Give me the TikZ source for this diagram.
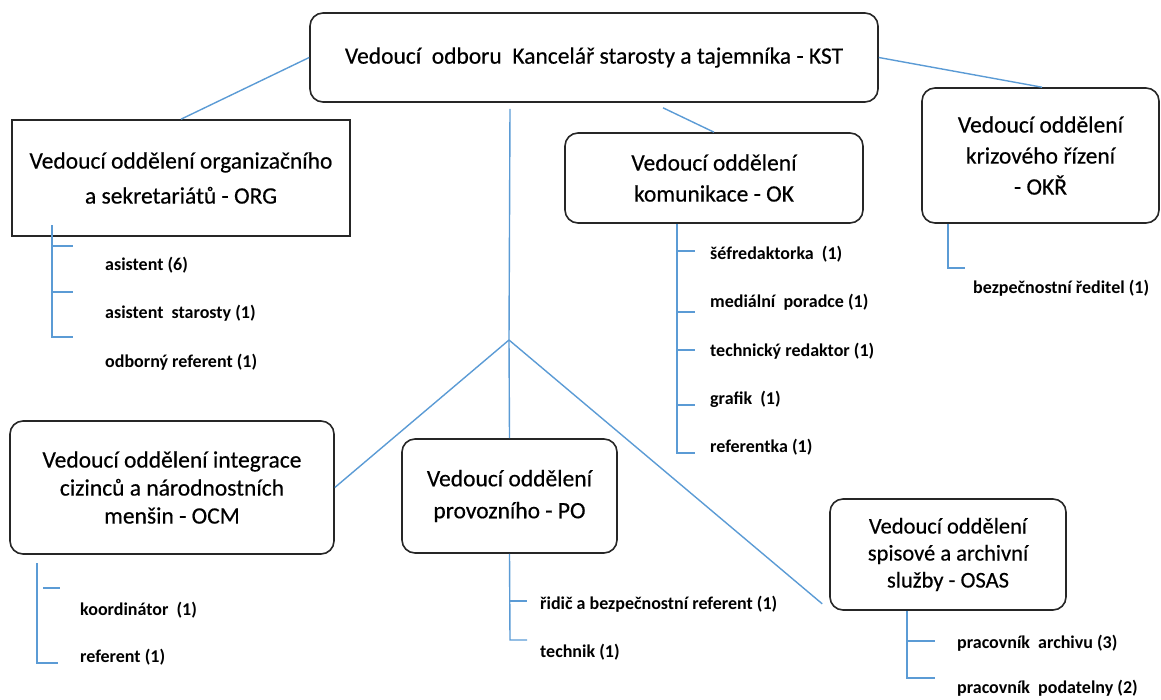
\documentclass[tikz,border=0pt]{standalone}
\usepackage{fontspec}
\setmainfont{Carlito}
\newfontfamily\titlefont[FakeBold=0.4]{Carlito}
\usetikzlibrary{calc}
\definecolor{conn}{RGB}{91,155,213}
\definecolor{boxline}{RGB}{38,38,38}
\begin{document}
\begin{tikzpicture}[x=1pt,y=-1pt,
  box/.style={draw=boxline,line width=1.6pt,rounded corners=13pt,align=center,inner sep=0pt,
    font=\titlefont\fontsize{23.5}{31}\selectfont},
  sqbox/.style={box,rounded corners=0pt},
  item/.style={anchor=west,inner sep=0pt,font=\fontsize{18}{20}\selectfont\bfseries},
  link/.style={draw=conn,line width=1.4pt}]
\useasboundingbox (0,0) rectangle (1161,699);
% boxes
\node[box,minimum width=568pt,minimum height=89pt] (kst) at (594,57.5) {\raisebox{-6pt}{Vedoucí\ \ odboru\ \ Kancelář starosty a tajemníka - KST}};
\node[sqbox,minimum width=338pt,minimum height=116pt,font=\titlefont\fontsize{23.5}{35}\selectfont] (org) at (181,178) {Vedoucí oddělení organizačního\\a sekretariátů - ORG};
\node[box,minimum width=298pt,minimum height=90pt] (ok) at (714,178) {Vedoucí oddělení\\komunikace - OK};
\node[box,minimum width=237pt,minimum height=135pt] (okr) at (1040.5,155.5) {Vedoucí oddělení\\krizového řízení\\- OKŘ};
\node[box,minimum width=324pt,minimum height=133pt,font=\titlefont\fontsize{23.5}{28}\selectfont] (ocm) at (172,487.5) {Vedoucí oddělení integrace\\cizinců a národnostních\\menšin - OCM};
\node[box,minimum width=215pt,minimum height=114pt,font=\titlefont\fontsize{23.5}{32}\selectfont] (po) at (509.5,496) {Vedoucí oddělení\\provozního - PO};
\node[box,minimum width=236pt,minimum height=111pt,font=\titlefont\fontsize{22.5}{27}\selectfont] (osas) at (948,554.5) {Vedoucí oddělení\\spisové a archivní\\služby - OSAS};
% connectors
\coordinate (j) at (509,340);
\draw[link] (kst.west) -- (org.north);
\draw[link] ([xshift=69pt,yshift=-5pt]kst.south) -- (ok.north);
\draw[link] (kst.east) -- ([xshift=1.5pt]okr.north);
\draw[link] ([xshift=-84pt,yshift=-6pt]kst.south) -- (j) -- (po.north);
\draw[link] (j) -- (ocm.east);
\draw[link] (j) -- ([xshift=-7pt,yshift=7pt]osas.south west);
% ORG list
\node[item] (o1) at (105,265) {asistent (6)};
\node[item] (o2) at (105,313) {asistent\ \ starosty (1)};
\node[item] (o3) at (105,362) {odborný referent (1)};
\draw[link] (52,225) -- (52,337) -- (73,337);
\draw[link] (52,246) -- (73,246);
\draw[link] (52,292) -- (73,292);
% OK list
\node[item] (k1) at (710,254) {šéfredaktorka\ \ (1)};
\node[item] (k2) at (710,302) {mediální\ \ poradce (1)};
\node[item] (k3) at (710,351) {technický redaktor (1)};
\node[item] (k4) at (710,399) {grafik\ \ (1)};
\node[item] (k5) at (710,447) {referentka (1)};
\draw[link] (ok.south -| 677,0) -- (677,453) -- (695,453);
\draw[link] (677,251) -- (695,251);
\draw[link] (677,312) -- (695,312);
\draw[link] (677,350) -- (695,350);
\draw[link] (677,405) -- (695,405);
% OKR list
\node[item] (r1) at (973,288) {bezpečnostní ředitel (1)};
\draw[link] (okr.south -| 948,0) -- (948,268) -- (965,268);
% OCM list
\node[item] (c1) at (80,610) {koordinátor\ \ (1)};
\node[item] (c2) at (80,657) {referent (1)};
\draw[link] (37,563) -- (37,663) -- (58,663);
\draw[link] (43,588) -- (60,588);
% PO list
\node[item] (p1) at (540,604) {řidič a bezpečnostní referent (1)};
\node[item] (p2) at (540,652) {technik (1)};
\draw[link] (po.south) -- (510,640) -- (527,640);
\draw[link] (510,601) -- (527,601);
% OSAS list
\node[item] (s1) at (957,643) {pracovník\ \ archivu (3)};
\node[item] (s2) at (957,688) {pracovník\ \ podatelny (2)};
\draw[link] (osas.south -| 907,0) -- (907,678) -- (935,678);
\draw[link] (907,641) -- (935,641);
\end{tikzpicture}
\end{document}
